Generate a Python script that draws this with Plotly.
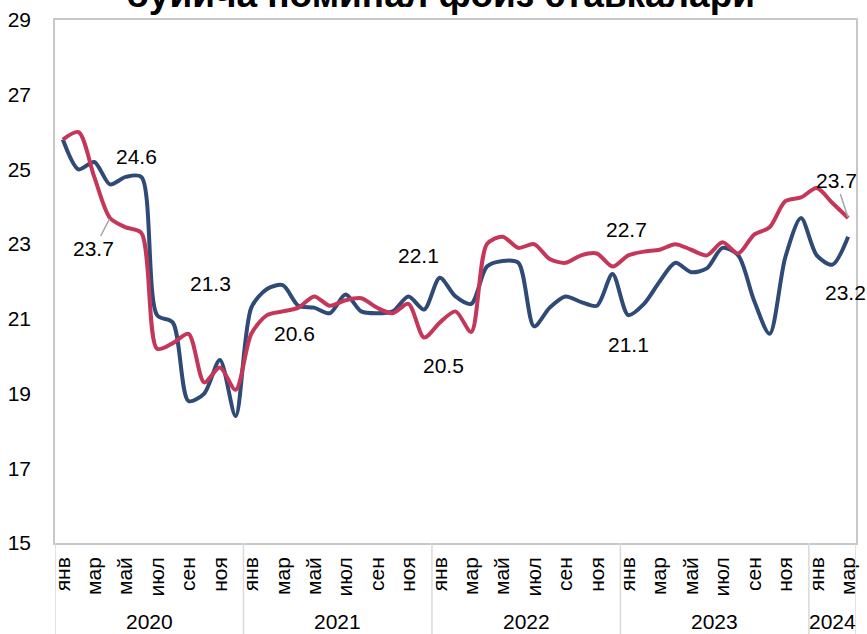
import plotly.graph_objects as go

# ---------------- data ----------------
years = [2020, 2021, 2022, 2023, 2024]
month_names = ["янв", "фев", "мар", "апр", "май", "июн",
               "июл", "авг", "сен", "окт", "ноя", "дек"]

navy_2020 = [25.8, 25.0, 25.2, 24.6, 24.8, 24.8, 21.1, 20.9, 18.8, 19.0, 19.9, 18.4]
navy_2021 = [21.3, 21.8, 21.9, 21.35, 21.3, 21.15, 21.65, 21.2, 21.15, 21.2, 21.6, 21.25]
navy_2022 = [22.1, 21.6, 21.4, 22.4, 22.55, 22.5, 20.8, 21.3, 21.6, 21.45, 21.35, 22.2]
navy_2023 = [21.1, 21.4, 22.0, 22.5, 22.25, 22.35, 22.9, 22.7, 21.5, 20.6, 22.65, 23.7]
navy_2024 = [22.7, 22.45, 23.2]

red_2020 = [25.8, 26.0, 24.8, 23.7, 23.45, 23.3, 20.2, 20.35, 20.6, 19.3, 19.7, 19.1]
red_2021 = [20.6, 21.1, 21.2, 21.3, 21.6, 21.35, 21.5, 21.55, 21.3, 21.15, 21.4, 20.5]
red_2022 = [20.9, 21.2, 20.65, 23.0, 23.2, 22.9, 23.0, 22.6, 22.5, 22.7, 22.75, 22.4]
red_2023 = [22.7, 22.8, 22.85, 23.0, 22.85, 22.7, 23.05, 22.75, 23.25, 23.45, 24.15, 24.25]
red_2024 = [24.5, 24.1, 23.7]

title_text = "бўйича номинал фоиз ставкалари"

navy = navy_2020 + navy_2021 + navy_2022 + navy_2023 + navy_2024
red = red_2020 + red_2021 + red_2022 + red_2023 + red_2024
n = len(navy)
idx = list(range(n))
month_of = [month_names[i % 12] for i in idx]
year_of = [years[i // 12] for i in idx]

# --------------- styling ---------------
NAVY = "#2F4A76"
RED = "#C5375A"
GRID = "#C8C8C8"
FONT = "Liberation Sans, Arial, sans-serif"
FS = 21
M_L, M_R, M_T, M_B = 55, 11, 20, 91

fig = go.Figure()
fig.add_trace(go.Scatter(x=idx, y=navy, mode="lines",
                         line=dict(color=NAVY, width=4, shape="spline", smoothing=0.8),
                         showlegend=False, hoverinfo="skip"))
fig.add_trace(go.Scatter(x=idx, y=red, mode="lines",
                         line=dict(color=RED, width=4, shape="spline", smoothing=0.8),
                         showlegend=False, hoverinfo="skip"))

# data labels: (series, year, month index, dx, dy, leader)
label_spec = [
    ("navy", 2020, 3, 27, -28, False),
    ("red", 2020, 3, -16, 31, True),
    ("navy", 2021, 0, -41, -24, False),
    ("red", 2021, 0, 43, 0, False),
    ("navy", 2022, 0, -21, -22, False),
    ("red", 2021, 11, 19, 28, False),
    ("red", 2023, 0, -2, -26, False),
    ("navy", 2023, 0, 0, 29, False),
    ("red", 2024, 2, -12, -37, True),
    ("navy", 2024, 2, -3, 56, False),
]
series_map = {"navy": navy, "red": red}
for s, yr, m, dx, dy, leader in label_spec:
    i = years.index(yr) * 12 + m
    v = series_map[s][i]
    fig.add_annotation(
        x=i, y=v, xref="x", yref="y", text=f"{v:.1f}",
        showarrow=True, ax=dx, ay=dy, axref="pixel", ayref="pixel",
        arrowhead=0, arrowwidth=1.5,
        arrowcolor="#A6A6A6" if leader else "rgba(0,0,0,0)",
        standoff=1, font=dict(family=FONT, size=FS, color="black"))

# year labels and separators (multi-level category axis)
plot_h = 634 - M_T - M_B
bottom_frac = -M_B / plot_h
for k, yr in enumerate(years):
    members = [i for i in idx if year_of[i] == yr]
    lo, hi = members[0] - 0.5, members[-1] + 0.5
    fig.add_annotation(x=(lo + hi) / 2, y=-78 / plot_h, xref="x", yref="paper",
                       text=str(yr), showarrow=False, yanchor="middle",
                       font=dict(family=FONT, size=FS, color="black"))
    for xb in ([lo, hi] if k == 0 else [hi]):
        fig.add_shape(type="line", xref="x", yref="paper", x0=xb, x1=xb,
                      y0=0, y1=bottom_frac, line=dict(color="#D9D9D9", width=1.5))

# title (partially cut off at the top of the image)
fig.add_annotation(x=0.481, y=1, xref="paper", yref="paper", yanchor="bottom",
                   yshift=3, text="<b>" + title_text + "</b>", showarrow=False,
                   font=dict(family=FONT, size=37, color="black"))

tick_idx = [i for i in idx if i % 2 == 0]
fig.update_layout(
    width=867, height=634,
    margin=dict(l=M_L, r=M_R, t=M_T, b=M_B, autoexpand=False),
    paper_bgcolor="white", plot_bgcolor="white",
    font=dict(family=FONT, size=FS, color="black"),
    xaxis=dict(range=[-0.5, n - 0.5], tickmode="array", tickvals=tick_idx,
               ticktext=[month_of[i] for i in tick_idx], tickangle=-90,
               ticks="outside", ticklen=4, tickcolor="rgba(0,0,0,0)",
               showgrid=False, zeroline=False, showline=True, mirror=True,
               linecolor=GRID, linewidth=1.5, tickfont=dict(size=FS),
               automargin=False),
    yaxis=dict(range=[15, 29], tickmode="linear", tick0=15, dtick=2,
               ticks="outside", ticklen=18, tickcolor="rgba(0,0,0,0)",
               showgrid=False, zeroline=False, showline=True, mirror=True,
               linecolor=GRID, linewidth=1.5, tickfont=dict(size=FS),
               automargin=False),
)

fig.write_html("out.html",
               config={"displayModeBar": False},
               post_script="document.body.style.margin='0';document.body.style.overflow='hidden';")
